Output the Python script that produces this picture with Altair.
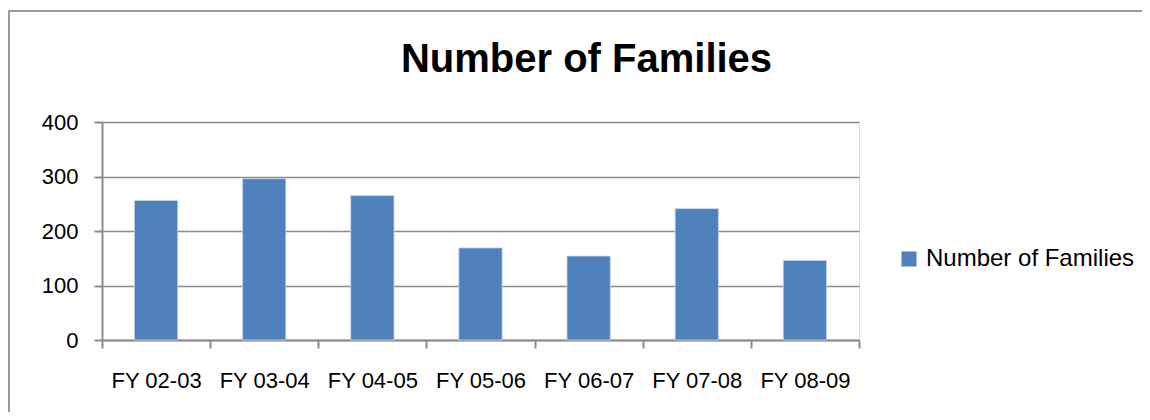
import altair as alt
import pandas as pd

years = ["FY 02-03", "FY 03-04", "FY 04-05", "FY 05-06", "FY 06-07", "FY 07-08", "FY 08-09"]
families = [256, 296, 265, 169, 154, 241, 146]
series_name = "Number of Families"
y_ticks = [0, 100, 200, 300, 400]

df = pd.DataFrame({"year": years, "value": families, "series": [series_name] * len(years)})

FONT = "Liberation Sans"
GRAY = "#8c8c8c"
FRAME = "#999999"

bars = alt.Chart(df).mark_bar(
    stroke="#c6d6ea", strokeWidth=0.8, width=alt.RelativeBandSize(0.4)
).encode(
    x=alt.X(
        "year:N",
        sort=years,
        title=None,
        scale=alt.Scale(paddingInner=0, paddingOuter=0),
        axis=alt.Axis(
            labelAngle=0,
            tickBand="extent",
            tickSize=8,
            labelPadding=22,
            labelFontSize=22,
            labelFont=FONT,
            labelColor="#000000",
            domainColor=GRAY,
            domainWidth=2,
            tickColor=GRAY,
            tickWidth=2,
            grid=False,
        ),
    ),
    y=alt.Y(
        "value:Q",
        title=None,
        scale=alt.Scale(domain=[0, 400], nice=False),
        axis=alt.Axis(
            values=y_ticks,
            tickSize=8,
            labelPadding=16,
            labelFontSize=22,
            labelFont=FONT,
            labelColor="#000000",
            domainColor=GRAY,
            domainWidth=2,
            tickColor=GRAY,
            tickWidth=2,
            gridColor=GRAY,
            gridWidth=1.5,
        ),
    ),
    color=alt.Color(
        "series:N",
        scale=alt.Scale(range=["#4f81bd"]),
        legend=alt.Legend(
            title=None,
            orient="none",
            legendX=795,
            legendY=125,
            symbolType="square",
            symbolSize=225,
            symbolStrokeWidth=0,
            labelFontSize=24,
            labelFont=FONT,
            labelColor="#000000",
            labelOffset=5,
            labelLimit=0,
        ),
    ),
)

frame_df = pd.DataFrame({"f": [0]})
frame_top = alt.Chart(frame_df).mark_rule(stroke=FRAME, strokeWidth=2).encode(
    x=alt.value(-93), x2=alt.value(1100), y=alt.value(-111)
)
frame_left = alt.Chart(frame_df).mark_rule(stroke=FRAME, strokeWidth=2).encode(
    x=alt.value(-93), y=alt.value(-112), y2=alt.value(500)
)

chart = alt.layer(frame_top, frame_left, bars).properties(
    width=757,
    height=218,
    title=alt.TitleParams(
        "Number of Families",
        font=FONT,
        fontSize=40,
        fontWeight="bold",
        color="#000000",
        anchor="middle",
        dx=106,
        offset=-71,
    ),
    autosize=alt.AutoSizeParams(type="none"),
    padding={"left": 94, "top": 114, "right": 283, "bottom": 72},
).configure_view(stroke=None).configure(background="white")

chart.save("out.html", embed_options={"renderer": "svg", "actions": False})
